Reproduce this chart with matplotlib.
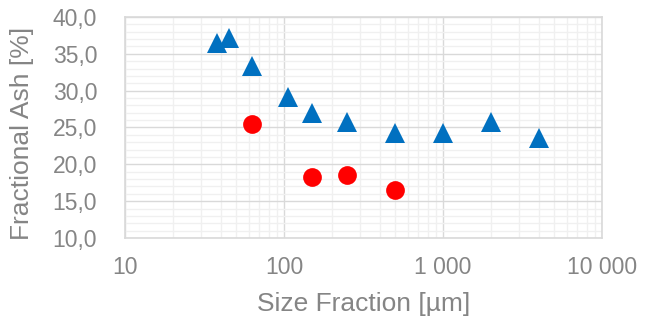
import numpy as np
import matplotlib
matplotlib.use("Agg")
import matplotlib.pyplot as plt
from matplotlib.ticker import FixedLocator, FuncFormatter, MultipleLocator

# size fractions [um] and fractional ash [%]
blue_x = [38, 45, 63, 106, 150, 250, 500, 1000, 2000, 4000]
blue_y = [36.5, 37.2, 33.4, 29.1, 27.0, 25.8, 24.2, 24.3, 25.7, 23.6]
red_x = [63, 150, 250, 500]
red_y = [25.5, 18.3, 18.5, 16.5]

x_ticks = [10, 100, 1000, 10000]
y_ticks = [10, 15, 20, 25, 30, 35, 40]

txt = '#858585'
plt.rcParams['font.family'] = ['Liberation Sans', 'DejaVu Sans']

fig = plt.figure(figsize=(6.45, 3.25), dpi=100)
ax = fig.add_axes([0.1938, 0.2677, 0.9333 - 0.1938, 0.9477 - 0.2677])

ax.set_xscale('log')
ax.set_xlim(10, 10000)
ax.set_ylim(10, 40)

ax.plot(blue_x, blue_y, '^', color='#0070C0', markersize=15, markeredgewidth=0, zorder=3)
ax.plot(red_x, red_y, 'o', color='#FF0000', markersize=13.5, markeredgewidth=0, zorder=3)

ax.xaxis.set_major_locator(FixedLocator(x_ticks))
ax.xaxis.set_minor_locator(FixedLocator([m * d for d in [10, 100, 1000] for m in range(2, 10)]))
ax.xaxis.set_major_formatter(FuncFormatter(lambda v, p: '{:,.0f}'.format(v).replace(',', ' ')))
ax.xaxis.set_minor_formatter(FuncFormatter(lambda v, p: ''))
ax.yaxis.set_major_locator(FixedLocator(y_ticks))
ax.yaxis.set_minor_locator(MultipleLocator(1))
ax.yaxis.set_major_formatter(FuncFormatter(lambda v, p: '{:.1f}'.format(v).replace('.', ',')))

ax.grid(True, which='major', color='#D9D9D9', linewidth=1.0, zorder=0)
ax.grid(True, which='minor', color='#F0F0F0', linewidth=1.0, zorder=0)
ax.set_axisbelow(True)

ax.tick_params(which='both', length=0, labelsize=16.5, labelcolor=txt)
ax.tick_params(axis='y', pad=20)
ax.tick_params(axis='x', pad=13)
for s in ax.spines.values():
    s.set_color('#D9D9D9')
    s.set_linewidth(1.2)

ax.set_xlabel('Size Fraction [µm]', fontsize=19, color=txt, labelpad=9)
ax.set_ylabel('Fractional Ash [%]', fontsize=19, color=txt)
ax.yaxis.set_label_coords(-0.19, 0.475)

fig.savefig('out.png', dpi=100)
